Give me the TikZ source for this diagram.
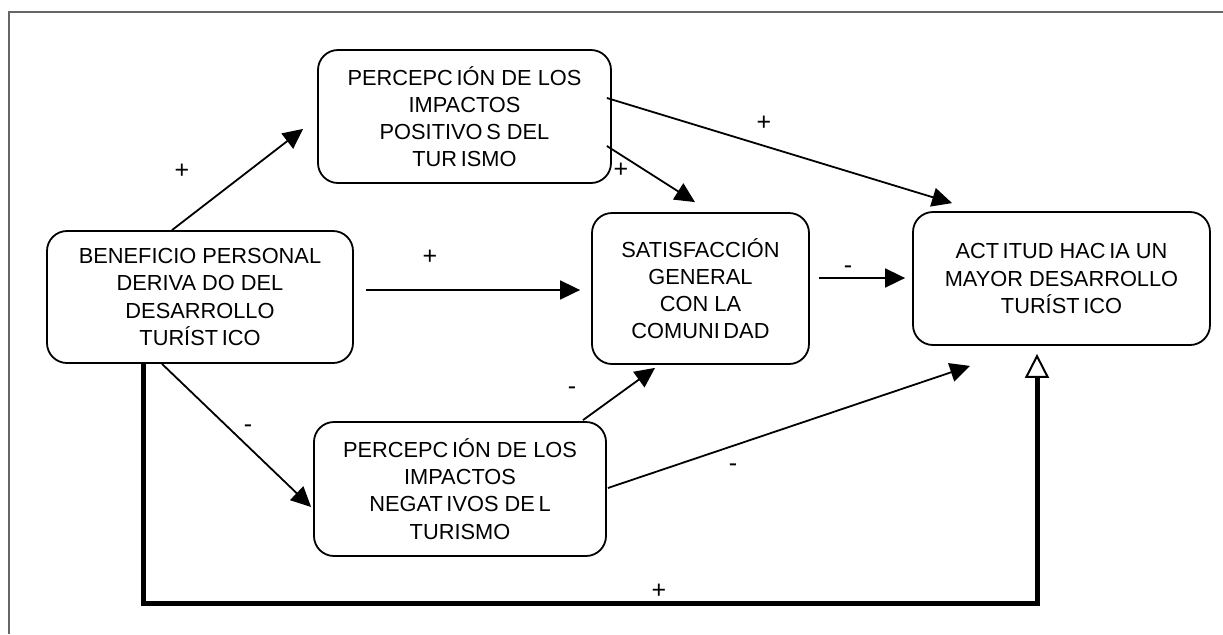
\documentclass[tikz,border=0pt]{standalone}
\usepackage{fontspec}
\setmainfont{Liberation Sans}
\usetikzlibrary{arrows.meta,calc}

\tikzset{
  caja/.style={draw, rounded corners=10pt, line width=0.9pt, align=center, inner sep=0pt,
    font=\fontsize{10.9}{13.6}\selectfont},
  flecha/.style={line width=0.9pt, -{Triangle[length=10pt,width=9.5pt]}},
  signo/.style={inner sep=0pt, font=\fontsize{12.5}{14}\selectfont},
}

\begin{document}
\begin{tikzpicture}[x=0.5pt,y=-0.5pt]
    \useasboundingbox (0,0) rectangle (1223,634);
    % marco
    \draw[black!60, line width=0.8pt] (9,634) -- (9,12) -- (1223,12);

    % cajas
    \node[caja, minimum width=146.5pt, minimum height=66.5pt] (pos) at (464.5,116.5)
        {PERCEPC\,IÓN DE LOS\\ IMPACTOS\hspace*{0.8em}\\ POSITIVO\,S DEL\\ TUR\,ISMO};
    \node[caja, minimum width=153pt, minimum height=66pt] (ben) at (200,297)
        {BENEFICIO PERSONAL\\ DERIVA DO DEL\\ DESARROLLO\hspace*{1.3em}\\ TURÍST\,ICO};
    \node[caja, minimum width=108.5pt, minimum height=75.5pt] (sat) at (700.5,288.5)
        {SATISFACCIÓN\\ GENERAL\\ CON LA\\ COMUNI\,DAD};
    \node[caja, minimum width=148.5pt, minimum height=66.5pt] (act) at (1061.5,278.5)
        {ACT\,ITUD HAC\,IA UN\\ MAYOR DESARROLLO\\ TURÍST\,ICO};
    \node[caja, minimum width=146pt, minimum height=67pt] (neg) at (460,489)
        {PERCEPC\,IÓN DE LOS\\ IMPACTOS\hspace*{0.9em}\\ NEGAT\,IVOS DE\,L\\ TURISMO};

    % flechas
    \draw[flecha] ($(ben.north)+(-28,0)$) -- ($(pos.south west)+(-14,-55)$);
    \draw[flecha] ($(ben.east)+(12,-7)$) -- ($(sat.west)+(-11,1.5)$);
    \draw[flecha] ($(pos.east)+(-5,29.5)$) -- ($(sat.north)+(-5.5,-10)$);
    \draw[flecha] ($(pos.east)+(-5,-18.5)$) -- ($(act.north west)+(40,-8)$);
    \draw[flecha] ($(sat.east)+(9,-10.5)$) -- ($(act.west)+(-7,-0.5)$);
    \draw[flecha] ($(ben.south)+(-38,0)$) -- ($(neg.west)+(-2,18)$);
    \draw[flecha] ($(neg.north)+(123,-1)$) -- ($(sat.south)+(-45.5,3)$);
    \draw[flecha] ($(neg.east)+(1,-1)$) -- ($(act.south west)+(58,20)$);
    \draw[line width=2.5pt, -{Triangle[open,length=12pt,width=12pt,line width=1pt]}]
        ($(ben.south)+(-57,0)$) -- ++(0,240) -| ($(act.south)+(-24.5,8)$);

    % signos
    \node[signo] (s1) at (182,171) {+};
    \node[signo] (s2) at (430,257) {+};
    \node[signo] (s3) at (621,170) {+};
    \node[signo] (s4) at (764,123) {+};
    \node[signo] (s5) at (848,270) {-};
    \node[signo] (s6) at (248,429) {-};
    \node[signo] (s7) at (572,391) {-};
    \node[signo] (s8) at (733,468) {-};
    \node[signo] (s9) at (659,591) {+};
\end{tikzpicture}
\end{document}
